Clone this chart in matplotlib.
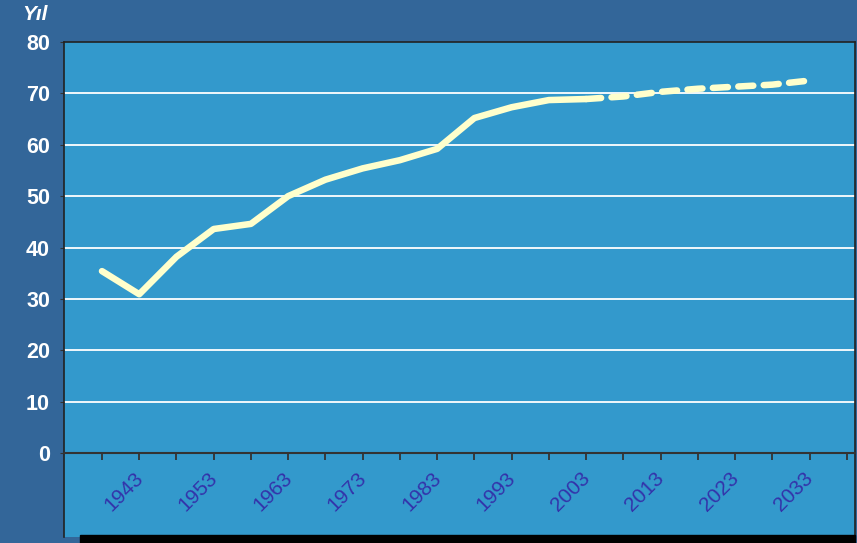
import matplotlib
matplotlib.use('Agg')
import matplotlib.pyplot as plt
import matplotlib.transforms as mtransforms
from matplotlib.patches import Rectangle

# Values
years_hist = [1938, 1943, 1948, 1953, 1958, 1963, 1968, 1973, 1978, 1983, 1988, 1993, 1998, 2003]
life_hist = [35.4, 30.9, 38.2, 43.6, 44.6, 50.0, 53.2, 55.4, 57.0, 59.2, 65.2, 67.3, 68.7, 68.9]
years_proj = [2003, 2008, 2013, 2018, 2023, 2028, 2033]
life_proj = [68.9, 69.4, 70.3, 70.9, 71.3, 71.7, 72.5]

label_years = list(range(1943, 2034, 10))
minor_years = list(range(1938, 2039, 10))
y_ticks = list(range(0, 81, 10))

bg_outer = '#336699'
bg_plot = '#3399cc'
line_col = '#ffffcc'

fig = plt.figure(figsize=(8.57, 5.43), dpi=100)
fig.patch.set_facecolor(bg_outer)

W, H = 857, 543
left, right, top, bottom = 64, 855, 42, 537
ax = fig.add_axes([left / W, 1 - bottom / H, (right - left) / W, (bottom - top) / H])
ax.set_facecolor(bg_plot)

# y: 0 sits at pixel 453, 80 at pixel 42
ppu = (453 - top) / 80
ax.set_ylim(-(bottom - 453) / ppu, 80)
ax.set_xlim(1932.9, 2039.1)

for v in y_ticks[1:-1]:
    ax.axhline(v, color='white', linewidth=1.3, zorder=1)

ax.plot(years_hist, life_hist, color=line_col, linewidth=4.7, solid_capstyle='round',
        solid_joinstyle='round', zorder=3)
ax.plot(years_proj, life_proj, color=line_col, linewidth=4.7, dashes=(2.3, 1.6),
        dash_capstyle='round', zorder=3)

for s in ['left', 'top', 'right']:
    ax.spines[s].set_color('#222222')
    ax.spines[s].set_linewidth(1.2)
ax.spines['bottom'].set_position(('data', 0))
ax.spines['bottom'].set_color('#333333')
ax.spines['bottom'].set_linewidth(1.5)

ax.set_yticks(y_ticks)
ax.set_yticklabels([str(v) for v in y_ticks], color='white', fontsize=15.5,
                   fontweight='bold', family='Liberation Sans')
ax.tick_params(axis='y', length=3, color='#333333', pad=7)

ax.set_xticks(label_years)
ax.set_xticks(minor_years, minor=True)
ax.set_xticklabels([str(v) for v in label_years], rotation=45, ha='right',
                   va='top', rotation_mode='anchor', color='#3333aa', fontsize=15,
                   family='Liberation Sans')
ax.tick_params(axis='x', which='both', length=5, width=1.3, color='#333333', pad=6)
shift = mtransforms.ScaledTranslation(-6 / 100, 0, fig.dpi_scale_trans)
for lab in ax.get_xticklabels():
    lab.set_transform(lab.get_transform() + shift)

# dark band along the bottom of the plot area
ax.add_patch(Rectangle((0.02, -0.02), 0.98, 0.025, transform=ax.transAxes,
                       color='black', clip_on=False, zorder=5))

fig.text(22 / W, 1 - 14 / H, 'Yıl', color='white', fontsize=15, fontweight='bold',
         fontstyle='italic', va='center', family='Liberation Sans')

plt.savefig('out.png', dpi=100, facecolor=bg_outer)
